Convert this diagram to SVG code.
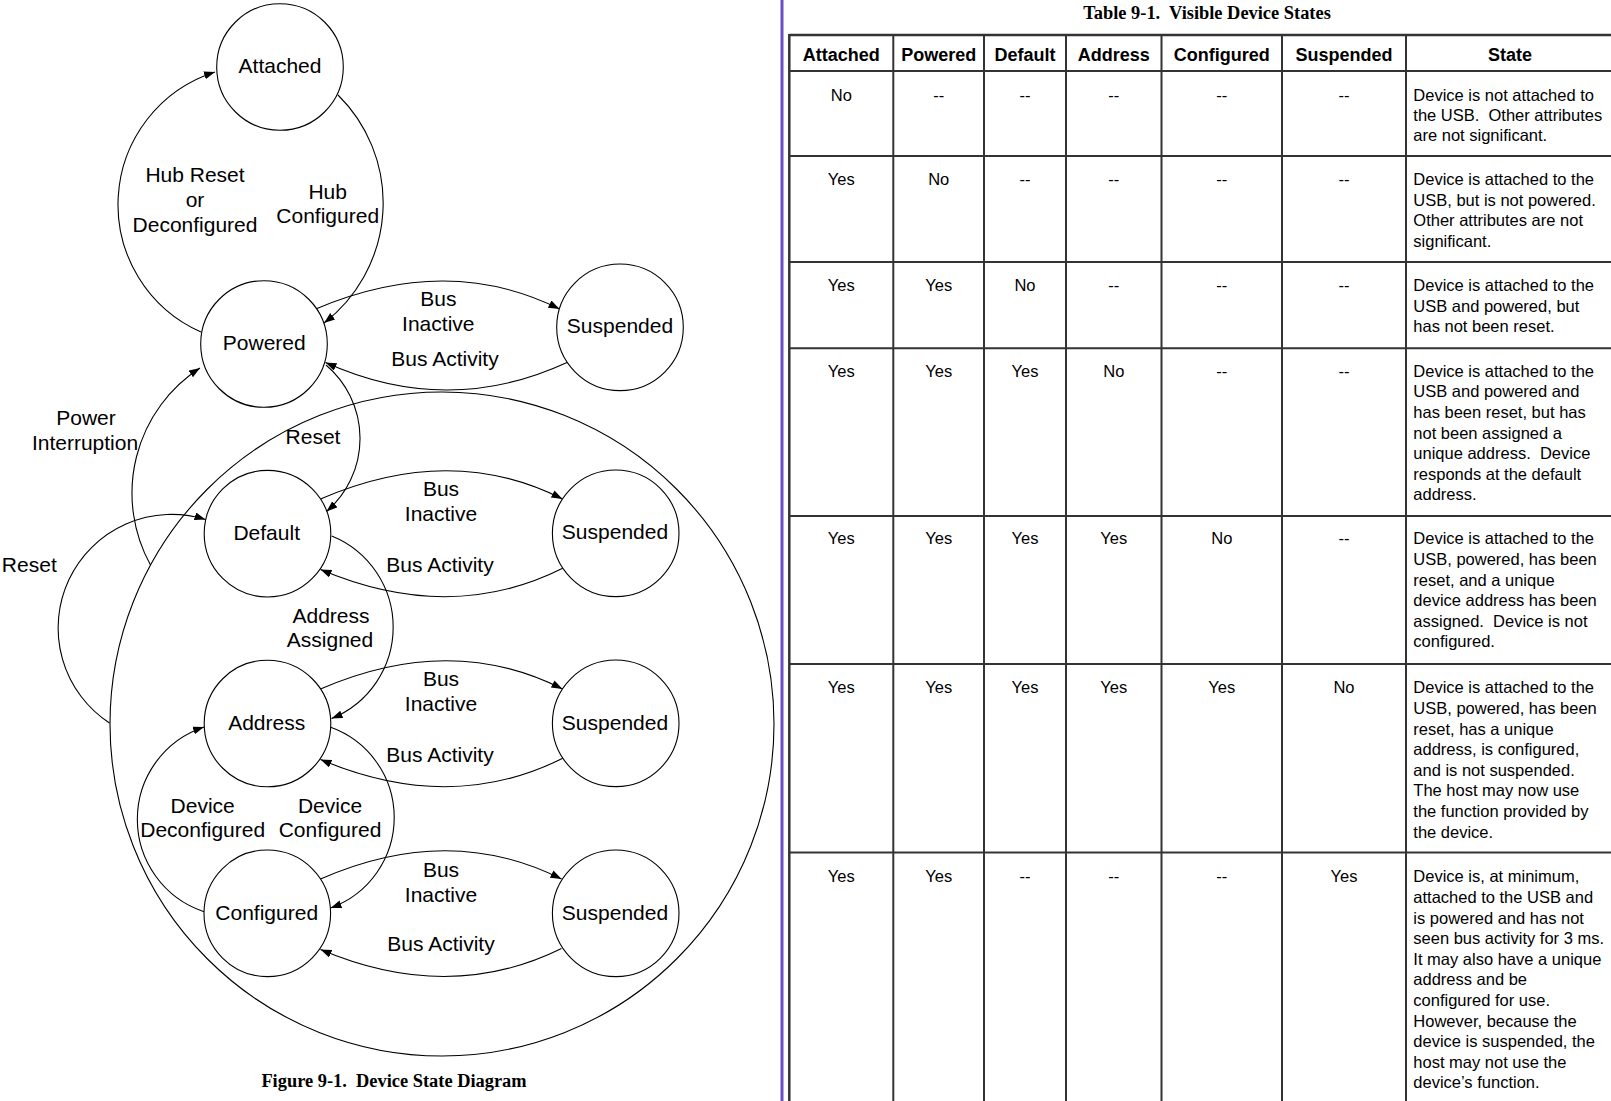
<svg xmlns="http://www.w3.org/2000/svg" width="1611" height="1101" viewBox="0 0 1611 1101">
<style>
.n{fill:#fff;stroke:#000;stroke-width:1.1}
.c{fill:none;stroke:#000;stroke-width:1.1}
.ca{fill:none;stroke:#000;stroke-width:1.1;marker-end:url(#ah)}
.t{font-family:"Liberation Sans",Arial,sans-serif;font-size:21px;text-anchor:middle;fill:#000}
.cap{font-family:"Liberation Serif","Times New Roman",serif;font-weight:bold;font-size:18.4px;text-anchor:middle;white-space:pre;fill:#000}
.th{font-family:"Liberation Sans",Arial,sans-serif;font-weight:bold;font-size:18px;text-anchor:middle;fill:#000}
.td{font-family:"Liberation Sans",Arial,sans-serif;font-size:16.5px;text-anchor:middle;fill:#000}
.ts{font-family:"Liberation Sans",Arial,sans-serif;font-size:16.5px;text-anchor:start;white-space:pre;fill:#000}
.g{stroke:#333;stroke-width:2;fill:none}
</style>
<defs>
<marker id="ah" markerUnits="userSpaceOnUse" markerWidth="12" markerHeight="9" refX="11" refY="4" orient="auto">
<path d="M0,0 L11,4 L0,8 z" fill="#000"/>
</marker>
</defs>
<rect width="1611" height="1101" fill="#fff"/>

<g id="region-big">
<circle class="c" cx="442" cy="724" r="332"/>
</g>

<g id="connectors">
<path id="hub-reset" class="ca" d="M201,332 A139.2,139.2 0 0 1 215,72"/>
<path id="hub-configured" class="ca" d="M338,95 A151.5,151.5 0 0 1 324,323"/>
<path id="power-interruption" class="ca" d="M150.5,565 A149,149 0 0 1 200,368"/>
<path id="reset-left" class="ca" d="M109.5,723 A113.6,113.6 0 0 1 205.5,519.5"/>
<path id="reset-right" class="ca" d="M326,365 A96.3,96.3 0 0 1 326.5,511.5"/>
<path id="address-assigned" class="ca" d="M331.7,536 A98.4,98.4 0 0 1 331.5,718.5"/>
<path id="device-configured" class="ca" d="M330,727 A96,96 0 0 1 330.5,908"/>
<path id="device-deconfigured" class="ca" d="M204,911.7 A97.3,97.3 0 0 1 204,727"/>
<path id="bi1" class="ca" d="M317,308.5 Q447.7,253.3 559.5,309"/>
<path id="ba1" class="ca" d="M567,362.5 Q447.7,417.5 325.5,362.5"/>
<path id="bi2" class="ca" d="M320.5,499 Q450.5,442.4 562.5,499"/>
<path id="ba2" class="ca" d="M562.7,568.3 Q450.4,624.5 320.5,569.5"/>
<path id="bi3" class="ca" d="M320.5,689 Q450.5,632.4 562.5,689"/>
<path id="ba3" class="ca" d="M562.7,758.3 Q450.4,814.5 320.5,759.5"/>
<path id="bi4" class="ca" d="M320.5,879 Q449,822.4 561.5,879"/>
<path id="ba4" class="ca" d="M561.5,948.5 Q449,1004 320.5,949.5"/>
</g>

<g id="connector-labels">
<text class="t" x="195" y="181.7">Hub Reset</text>
<text class="t" x="195" y="206.7">or</text>
<text class="t" x="195" y="231.7">Deconfigured</text>
<text class="t" x="327.7" y="199.3">Hub</text>
<text class="t" x="327.7" y="223.3">Configured</text>
<text class="t" x="438.3" y="305.7">Bus</text>
<text class="t" x="438.3" y="330.7">Inactive</text>
<text class="t" x="445" y="366">Bus Activity</text>
<text class="t" x="86" y="425">Power</text>
<text class="t" x="85" y="450">Interruption</text>
<text class="t" x="313" y="444">Reset</text>
<text class="t" x="29.3" y="571.7">Reset</text>
<text class="t" x="441" y="495.7">Bus</text>
<text class="t" x="441" y="520.7">Inactive</text>
<text class="t" x="440" y="571.7">Bus Activity</text>
<text class="t" x="331" y="622.7">Address</text>
<text class="t" x="330" y="646.7">Assigned</text>
<text class="t" x="441" y="685.7">Bus</text>
<text class="t" x="441" y="710.7">Inactive</text>
<text class="t" x="440" y="761.7">Bus Activity</text>
<text class="t" x="202.7" y="812.7">Device</text>
<text class="t" x="202.7" y="837.3">Deconfigured</text>
<text class="t" x="330" y="812.7">Device</text>
<text class="t" x="330" y="837.3">Configured</text>
<text class="t" x="441" y="876.7">Bus</text>
<text class="t" x="441" y="901.7">Inactive</text>
<text class="t" x="441" y="951">Bus Activity</text>
</g>

<g id="attached"><circle class="n" cx="280" cy="67" r="63.3"/><text class="t" x="280" y="73.3">Attached</text></g>
<g id="powered"><circle class="n" cx="264" cy="344" r="63.3"/><text class="t" x="264.3" y="350">Powered</text></g>
<g id="suspended-1"><circle class="n" cx="620" cy="327.3" r="63.3"/><text class="t" x="620" y="333.3">Suspended</text></g>
<g id="default"><circle class="n" cx="267.5" cy="533.7" r="63.3"/><text class="t" x="266.7" y="540">Default</text></g>
<g id="suspended-2"><circle class="n" cx="615.7" cy="533.3" r="63.3"/><text class="t" x="615" y="539.3">Suspended</text></g>
<g id="address"><circle class="n" cx="267.5" cy="723.5" r="63.3"/><text class="t" x="266.7" y="730">Address</text></g>
<g id="suspended-3"><circle class="n" cx="615.7" cy="723.3" r="63.3"/><text class="t" x="615" y="730">Suspended</text></g>
<g id="configured"><circle class="n" cx="267.3" cy="913.3" r="63.3"/><text class="t" x="266.7" y="920">Configured</text></g>
<g id="suspended-4"><circle class="n" cx="615.7" cy="913.3" r="63.3"/><text class="t" x="615" y="920">Suspended</text></g>

<text class="cap" x="394" y="1087.3">Figure 9-1.  Device State Diagram</text>

<g id="table">
<line x1="782" y1="0" x2="782" y2="1101" stroke="#6a50c4" stroke-width="3"/>
<text class="cap" x="1207" y="18.5">Table 9-1.  Visible Device States</text>
<g class="g">
<line x1="789.3" y1="35" x2="1611" y2="35" stroke-width="2.5"/>
<line x1="789.3" y1="34" x2="789.3" y2="1101" stroke-width="2.5"/>
<line x1="789.3" y1="71" x2="1611" y2="71"/>
<line x1="789.3" y1="156" x2="1611" y2="156"/>
<line x1="789.3" y1="262" x2="1611" y2="262"/>
<line x1="789.3" y1="348.3" x2="1611" y2="348.3"/>
<line x1="789.3" y1="516" x2="1611" y2="516"/>
<line x1="789.3" y1="664" x2="1611" y2="664"/>
<line x1="789.3" y1="852.5" x2="1611" y2="852.5"/>
<line x1="893.3" y1="35" x2="893.3" y2="1101"/>
<line x1="984" y1="35" x2="984" y2="1101"/>
<line x1="1066" y1="35" x2="1066" y2="1101"/>
<line x1="1161.5" y1="35" x2="1161.5" y2="1101"/>
<line x1="1282" y1="35" x2="1282" y2="1101"/>
<line x1="1406" y1="35" x2="1406" y2="1101"/>
</g>
<g id="table-header">
<text class="th" x="841.3" y="60.7">Attached</text>
<text class="th" x="938.7" y="60.7">Powered</text>
<text class="th" x="1025" y="60.7">Default</text>
<text class="th" x="1113.8" y="60.7">Address</text>
<text class="th" x="1221.8" y="60.7">Configured</text>
<text class="th" x="1344" y="60.7">Suspended</text>
<text class="th" x="1510" y="60.7">State</text>
</g>
<g id="row-1">
<text class="td" x="841.3" y="100.5">No</text>
<text class="td" x="938.7" y="100.5">--</text>
<text class="td" x="1025" y="100.5">--</text>
<text class="td" x="1113.8" y="100.5">--</text>
<text class="td" x="1221.8" y="100.5">--</text>
<text class="td" x="1344" y="100.5">--</text>
<text class="ts" x="1413.3" y="100.5">Device is not attached to<tspan x="1413.3" dy="20.3">the USB.  Other attributes</tspan><tspan x="1413.3" dy="20.3">are not significant.</tspan></text>
</g>
<g id="row-2">
<text class="td" x="841.3" y="185">Yes</text>
<text class="td" x="938.7" y="185">No</text>
<text class="td" x="1025" y="185">--</text>
<text class="td" x="1113.8" y="185">--</text>
<text class="td" x="1221.8" y="185">--</text>
<text class="td" x="1344" y="185">--</text>
<text class="ts" x="1413.3" y="185">Device is attached to the<tspan x="1413.3" dy="20.5">USB, but is not powered.</tspan><tspan x="1413.3" dy="20.5">Other attributes are not</tspan><tspan x="1413.3" dy="20.5">significant.</tspan></text>
</g>
<g id="row-3">
<text class="td" x="841.3" y="291">Yes</text>
<text class="td" x="938.7" y="291">Yes</text>
<text class="td" x="1025" y="291">No</text>
<text class="td" x="1113.8" y="291">--</text>
<text class="td" x="1221.8" y="291">--</text>
<text class="td" x="1344" y="291">--</text>
<text class="ts" x="1413.3" y="291">Device is attached to the<tspan x="1413.3" dy="20.5">USB and powered, but</tspan><tspan x="1413.3" dy="20.5">has not been reset.</tspan></text>
</g>
<g id="row-4">
<text class="td" x="841.3" y="376.7">Yes</text>
<text class="td" x="938.7" y="376.7">Yes</text>
<text class="td" x="1025" y="376.7">Yes</text>
<text class="td" x="1113.8" y="376.7">No</text>
<text class="td" x="1221.8" y="376.7">--</text>
<text class="td" x="1344" y="376.7">--</text>
<text class="ts" x="1413.3" y="376.7">Device is attached to the<tspan x="1413.3" dy="20.6">USB and powered and</tspan><tspan x="1413.3" dy="20.6">has been reset, but has</tspan><tspan x="1413.3" dy="20.6">not been assigned a</tspan><tspan x="1413.3" dy="20.6">unique address.  Device</tspan><tspan x="1413.3" dy="20.6">responds at the default</tspan><tspan x="1413.3" dy="20.6">address.</tspan></text>
</g>
<g id="row-5">
<text class="td" x="841.3" y="544.3">Yes</text>
<text class="td" x="938.7" y="544.3">Yes</text>
<text class="td" x="1025" y="544.3">Yes</text>
<text class="td" x="1113.8" y="544.3">Yes</text>
<text class="td" x="1221.8" y="544.3">No</text>
<text class="td" x="1344" y="544.3">--</text>
<text class="ts" x="1413.3" y="544.3">Device is attached to the<tspan x="1413.3" dy="20.6">USB, powered, has been</tspan><tspan x="1413.3" dy="20.6">reset, and a unique</tspan><tspan x="1413.3" dy="20.6">device address has been</tspan><tspan x="1413.3" dy="20.6">assigned.  Device is not</tspan><tspan x="1413.3" dy="20.6">configured.</tspan></text>
</g>
<g id="row-6">
<text class="td" x="841.3" y="693.3">Yes</text>
<text class="td" x="938.7" y="693.3">Yes</text>
<text class="td" x="1025" y="693.3">Yes</text>
<text class="td" x="1113.8" y="693.3">Yes</text>
<text class="td" x="1221.8" y="693.3">Yes</text>
<text class="td" x="1344" y="693.3">No</text>
<text class="ts" x="1413.3" y="693.3">Device is attached to the<tspan x="1413.3" dy="20.6">USB, powered, has been</tspan><tspan x="1413.3" dy="20.6">reset, has a unique</tspan><tspan x="1413.3" dy="20.6">address, is configured,</tspan><tspan x="1413.3" dy="20.6">and is not suspended.</tspan><tspan x="1413.3" dy="20.6">The host may now use</tspan><tspan x="1413.3" dy="20.6">the function provided by</tspan><tspan x="1413.3" dy="20.6">the device.</tspan></text>
</g>
<g id="row-7">
<text class="td" x="841.3" y="882.3">Yes</text>
<text class="td" x="938.7" y="882.3">Yes</text>
<text class="td" x="1025" y="882.3">--</text>
<text class="td" x="1113.8" y="882.3">--</text>
<text class="td" x="1221.8" y="882.3">--</text>
<text class="td" x="1344" y="882.3">Yes</text>
<text class="ts" x="1413.3" y="882.3">Device is, at minimum,<tspan x="1413.3" dy="20.6">attached to the USB and</tspan><tspan x="1413.3" dy="20.6">is powered and has not</tspan><tspan x="1413.3" dy="20.6">seen bus activity for 3 ms.</tspan><tspan x="1413.3" dy="20.6">It may also have a unique</tspan><tspan x="1413.3" dy="20.6">address and be</tspan><tspan x="1413.3" dy="20.6">configured for use.</tspan><tspan x="1413.3" dy="20.6">However, because the</tspan><tspan x="1413.3" dy="20.6">device is suspended, the</tspan><tspan x="1413.3" dy="20.6">host may not use the</tspan><tspan x="1413.3" dy="20.6">device’s function.</tspan></text>
</g>
</g>
</svg>
